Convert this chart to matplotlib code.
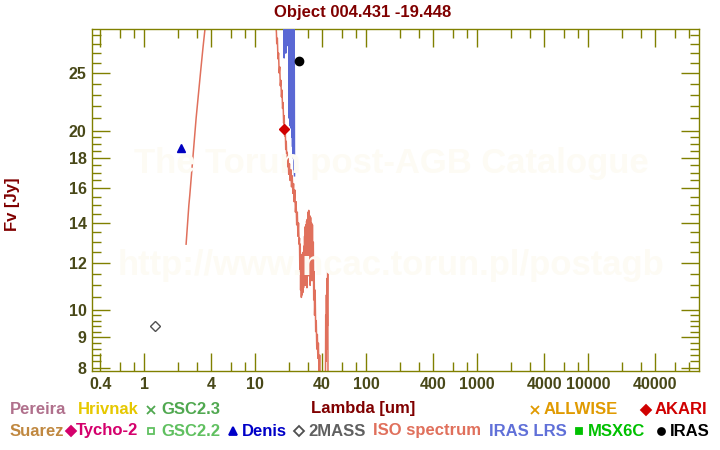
import matplotlib
matplotlib.use("Agg")
import matplotlib.pyplot as plt
from matplotlib.ticker import FixedLocator, NullFormatter

# ISO SWS spectrum (um, Jy)
iso_wl = [2.38, 2.42, 2.47, 2.52, 2.57, 2.62, 2.68, 2.74, 2.80, 2.86, 2.93, 3.00,
          3.07, 3.14, 3.22, 3.30, 3.38, 3.47, 3.56, 3.70, 4.0, 5.0, 7.0, 10.0, 13.0,
          15.0, 15.3, 15.5, 15.6, 15.8, 16.0, 16.2, 16.4, 16.6, 16.8, 17.0, 17.2,
          17.4, 17.6, 17.8, 18.0, 18.2, 18.4, 18.6, 18.8, 19.0, 19.2, 19.4, 19.6,
          19.8, 20.0, 20.3, 20.6, 20.9, 21.2, 21.5, 21.8, 22.1, 22.4, 22.7, 23.0,
          23.3, 23.6, 23.9, 24.2, 24.5, 24.8, 25.0, 25.2, 25.4, 25.6, 25.8, 26.0,
          26.2, 26.4, 26.6, 26.8, 27.0, 27.2, 27.4, 27.6, 27.8, 28.0, 28.2, 28.4,
          28.6, 28.8, 29.0, 29.2, 29.4, 29.6, 29.8, 30.0, 30.3, 30.6, 30.9, 31.2,
          31.5, 31.8, 32.1, 32.4, 32.7, 33.0, 33.3, 33.6, 33.9, 34.2, 34.6, 35.0,
          35.4, 35.8, 36.2, 36.6, 37.0, 37.5, 38.0, 38.5, 39.0, 40.0, 41.0, 42.0,
          42.8, 43.1, 43.4, 43.7, 44.0, 44.3, 44.6, 44.9, 45.2]
iso_fl = [12.9, 13.5, 14.3, 15.0, 15.6, 16.3, 17.2, 18.0, 19.0, 19.8, 21.0, 22.0,
          23.0, 24.0, 25.2, 26.4, 27.6, 28.9, 30.2, 32.0, 37.0, 55.0, 80.0, 85.0, 60.0,
          36.0, 30.5, 29.2, 28.0, 28.6, 26.4, 27.0, 25.0, 25.6, 23.8, 24.3, 22.8,
          23.4, 21.8, 22.3, 20.6, 21.2, 19.6, 20.2, 18.6, 19.2, 17.9, 18.4, 17.4,
          18.0, 16.9, 17.6, 16.5, 17.2, 16.1, 16.8, 15.7, 16.3, 15.2, 15.9, 14.6,
          15.2, 13.9, 14.6, 13.3, 14.0, 12.9, 13.2, 11.6, 12.9, 10.8, 12.4, 10.5,
          11.9, 10.6, 12.3, 10.7, 12.5, 10.9, 12.8, 11.2, 13.3, 11.0, 13.8, 11.4,
          13.9, 11.0, 14.1, 10.9, 14.2, 11.6, 14.6, 11.8, 14.7, 11.4, 14.4, 11.0,
          14.3, 11.3, 14.0, 11.2, 13.9, 11.5, 13.0, 10.4, 11.6, 9.8, 10.8, 9.2,
          9.6, 8.6, 9.1, 8.3, 8.8, 7.8, 8.4, 7.6, 7.4, 7.0, 7.1, 7.2,
          7.0, 9.8, 8.2, 10.6, 8.6, 11.3, 9.4, 11.8, 7.5]

# IRAS LRS spectrum
lrs_wl = [17.6, 17.9, 18.2, 18.5, 18.8, 19.1, 19.4, 19.7, 20.0, 20.15, 20.3, 20.45,
          20.6, 20.75, 20.9, 21.05, 21.2, 21.35, 21.5, 21.65, 21.8, 21.95, 22.1,
          22.25, 22.4, 22.55]
lrs_fl = [40.0, 33.0, 26.5, 34.0, 27.0, 36.0, 27.8, 38.0, 29.0, 21.0, 35.0, 20.4,
          33.0, 20.8, 36.0, 20.2, 32.0, 19.5, 34.0, 18.8, 31.0, 18.0, 33.0, 17.2,
          30.0, 16.8]

# photometry
denis_wl, denis_fl = [2.15], [18.7]
twomass_wl, twomass_fl = [1.25], [9.4]
akari_wl, akari_fl = [18.0], [20.1]
iras_wl, iras_fl = [25.0], [26.2]

xticks = [0.4, 1, 4, 10, 40, 100, 400, 1000, 4000, 10000, 40000]
xticklabels = ["0.4", "1", "4", "10", "40", "100", "400", "1000", "4000", "10000", "40000"]
xminor = [0.6, 0.8, 2, 3, 6, 8, 20, 30, 60, 80, 200, 300, 600, 800, 2000, 3000,
          6000, 8000, 20000, 30000, 60000, 80000]
yticks = [8, 9, 10, 12, 14, 16, 18, 20, 25]
yminor = [8.2, 8.4, 8.6, 8.8, 9.2, 9.4, 9.6, 9.8, 10.5, 11, 11.5, 12.5, 13, 13.5,
          14.5, 15, 15.5, 16.5, 17, 17.5, 18.5, 19, 19.5, 21, 22, 23, 24,
          26, 27, 28, 29]

title = "Object 004.431 -19.448"
row1 = ["Pereira", "Hrivnak", "GSC2.3", "ALLWISE", "AKARI"]
row2 = ["Suarez", "Tycho-2", "GSC2.2", "Denis", "2MASS", "ISO spectrum", "IRAS LRS",
        "MSX6C", "IRAS"]

W, H = 720, 450
olive = "#808000"
darkred = "#800000"
font = "Liberation Sans"

fig = plt.figure(figsize=(7.2, 4.5), dpi=100)
ax = fig.add_axes([92.3 / W, 1 - 371 / H, 607 / W, 341.7 / H])
ax.set_xscale("log")
ax.set_yscale("log")

ax.plot(iso_wl, iso_fl, color="#e0705c", lw=1.1, zorder=2)
ax.plot(lrs_wl, lrs_fl, color="#5a68d4", lw=1.1, zorder=3)
ax.plot(twomass_wl, twomass_fl, "D", ms=5, mfc="white", mec="#505050", mew=1.0, zorder=4)
ax.plot(denis_wl, denis_fl, "^", ms=6, color="#0000c0", zorder=4)
ax.plot(akari_wl, akari_fl, "D", ms=5.5, color="#d00000", zorder=4)
ax.plot(iras_wl, iras_fl, "o", ms=6, color="black", zorder=4)

ax.set_xlim(0.34, 1e5)
ax.set_ylim(7.9, 29.6)

ax.set_xticks(xticks)
ax.set_xticklabels(xticklabels)
ax.xaxis.set_minor_locator(FixedLocator(xminor))
ax.xaxis.set_minor_formatter(NullFormatter())
ax.set_yticks(yticks)
ax.set_yticklabels([str(t) for t in yticks])
ax.yaxis.set_minor_locator(FixedLocator(yminor))
ax.yaxis.set_minor_formatter(NullFormatter())

ax.tick_params(which="both", direction="in", top=True, right=True, color=olive, width=1.0)
ax.tick_params(which="major", length=13.3, pad=4)
ax.tick_params(which="minor", length=6.7)
for lab in ax.get_xticklabels() + ax.get_yticklabels():
    lab.set_fontfamily(font)
    lab.set_fontweight("bold")
    lab.set_fontsize(11.5)
    lab.set_color("#484818")
for sp in ax.spines.values():
    sp.set_color(olive)
    sp.set_linewidth(1.0)

# faint watermark
wm = dict(ha="center", va="center", fontsize=24.9, fontweight="bold", family=font,
          color="#fdfbf4", zorder=0)
fig.text(391 / W, 1 - 163 / H, "The Torun post-AGB Catalogue", **wm)
fig.text(391 / W, 1 - 265 / H, "http://www.ncac.torun.pl/postagb", **wm)

def ftext(px, py, s, color, ha="left", size=12, rot=0):
    fig.text(px / W, 1 - py / H, s, color=color, ha=ha, va="center", fontsize=size,
             fontweight="bold", family=font, rotation=rot)

def fmark(px, py, marker, color, ms=5, open_=False):
    fig.add_artist(plt.Line2D([px / W], [1 - py / H], marker=marker, ms=ms,
                              color=color, mfc="white" if open_ else color,
                              mec=color, mew=1.3, transform=fig.transFigure))

ftext(363, 12, title, darkred, ha="center")
ftext(363, 408, "Lambda [um]", darkred, ha="center")
ftext(13, 204, "Fv [Jy]", darkred, ha="center", rot=90)

# legend row 1
ftext(10, 410, row1[0], "#b0708c")
ftext(78, 410, row1[1], "#e6c800")
fmark(150.5, 410, "x", "#50a850", ms=5.5)
ftext(161, 410, row1[2], "#50a850")
fmark(534.5, 410, "x", "#e09a00", ms=6)
ftext(543.5, 410, row1[3], "#e09a00")
fmark(646, 410, "D", "#d00000", ms=5)
ftext(655, 410, row1[4], "#d00000")

# legend row 2
ftext(10, 431, row2[0], "#c08840")
fmark(71, 431, "D", "#d4006c", ms=5)
ftext(76, 431, row2[1], "#d4006c")
fmark(151, 431, "s", "#60c060", ms=4, open_=True)
ftext(161, 431, row2[2], "#60c060")
fmark(233, 431, "^", "#0000c8", ms=5.5)
ftext(241.5, 431, row2[3], "#0000c8")
fmark(298.5, 431, "D", "#505050", ms=5, open_=True)
ftext(308, 431, row2[4], "#606060")
ftext(372.5, 431, row2[5], "#e0705c")
ftext(489, 431, row2[6], "#6070d8")
fmark(579, 431, "s", "#00c000", ms=5)
ftext(588, 431, row2[7], "#00c000")
fmark(661, 431, "o", "black", ms=5)
ftext(670, 431, row2[8], "black")

fig.savefig("out.png", dpi=100)
